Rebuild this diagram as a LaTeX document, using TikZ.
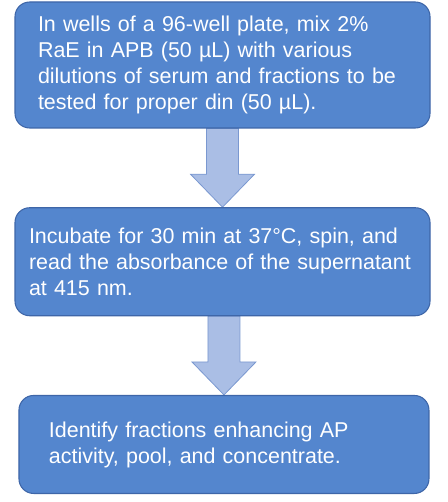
\documentclass[tikz,border=0pt]{standalone}
\usepackage{fontspec}
\setmainfont{Liberation Sans}
\usetikzlibrary{
    positioning,
    calc,
    backgrounds,
}

\definecolor{boxblue}{RGB}{84,134,206}
\definecolor{boxline}{RGB}{62,102,168}
\definecolor{arrowfill}{RGB}{170,190,229}
\definecolor{arrowline}{RGB}{122,152,208}

\begin{document}
\begin{tikzpicture}[
    node distance=59pt,
    stepbox/.style={draw=boxline, line width=0.8pt, fill=boxblue, rounded corners=11pt,
                text=white, align=left, inner ysep=0pt,
                font=\fontsize{16.1pt}{19.5pt}\selectfont},
    flowarrow/.style={draw=arrowline, line width=0.6pt, fill=arrowfill},
]

\useasboundingbox (0,0) rectangle (336pt,-376.5pt);

% Step 1: mixing
\node[stepbox, minimum width=311.25pt, minimum height=94.5pt, text width=276.75pt, inner xsep=17.25pt]
    at (166.875pt,-48.75pt) (Wells)
    {In wells of a 96-well plate, mix 2\%\\RaE in APB (50 µL) with various\\dilutions of serum and fractions to be\\tested for proper din (50 µL).};

% Step 2: incubation
\node[stepbox, minimum width=311.25pt, minimum height=81pt, text width=290.25pt, inner xsep=10.5pt]
    (Incubate) [below=of Wells]
    {Incubate for 30 min at 37°C, spin, and\\read the absorbance of the supernatant\\at 415 nm.};

% Step 3: identification
\node[stepbox, minimum width=307.5pt, minimum height=73.5pt, text width=262.5pt, inner xsep=22.5pt]
    (Identify) [below=of Incubate, xshift=1.1pt]
    {Identify fractions enhancing AP\\activity, pool, and concentrate.};

% Arrows
\begin{scope}[on background layer]
\draw[flowarrow] ($(Wells.south)+(-12pt,0)$) -- ($(Incubate.north)+(-12pt,24.75pt)$)
    -- ($(Incubate.north)+(-24pt,24.75pt)$) -- (Incubate.north)
    -- ($(Incubate.north)+(24pt,24.75pt)$) -- ($(Incubate.north)+(12pt,24.75pt)$)
    -- ($(Wells.south)+(12pt,0)$) -- cycle;
\draw[flowarrow] ($(Incubate.south -| Identify.north)+(-12pt,0)$) -- ($(Identify.north)+(-12pt,24.75pt)$)
    -- ($(Identify.north)+(-24pt,24.75pt)$) -- (Identify.north)
    -- ($(Identify.north)+(24pt,24.75pt)$) -- ($(Identify.north)+(12pt,24.75pt)$)
    -- ($(Incubate.south -| Identify.north)+(12pt,0)$) -- cycle;
\end{scope}

\end{tikzpicture}
\end{document}
